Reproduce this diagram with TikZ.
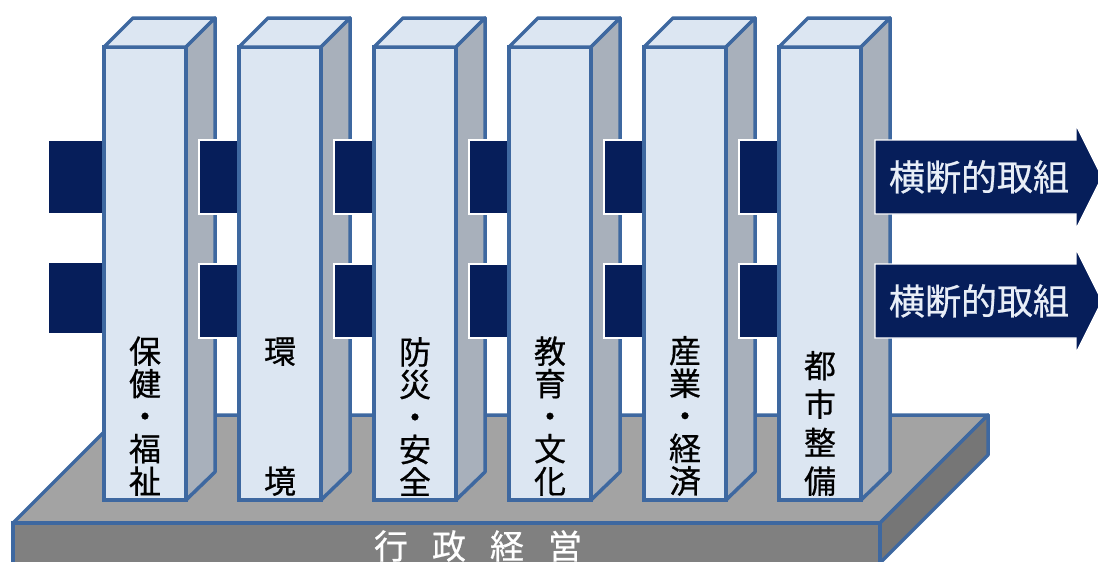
\documentclass[tikz,border=0pt]{standalone}
\usepackage{fontspec}
\setmainfont[FakeBold=0.6,AutoFakeBold=0.6]{Noto Sans CJK JP}
\usetikzlibrary{positioning}
\definecolor{navy}{RGB}{6,30,90}
\definecolor{face}{RGB}{220,230,242}
\definecolor{shade}{RGB}{168,176,187}
\definecolor{rim}{RGB}{62,104,160}
\tikzstyle{pillar} = [rectangle, draw=rim, fill=face, line width=3.5pt, minimum width=82pt, minimum height=453pt, inner sep=0pt, outer sep=0pt]
\tikzstyle{topface} = [draw=rim, fill=face, line width=3.5pt, line join=round]
\tikzstyle{sideface} = [draw=rim, fill=shade, line width=3.5pt, line join=round]
\tikzstyle{bar} = [fill=navy, draw=white, line width=1.2pt]

% one column of the building: front face, top, side and its label
\newcommand{\sector}[3]{%
    \node[pillar] (#1) at (#2,273.5) {};
    \filldraw[topface] (#1.north west) -- ++(29,-29) -- ++(82,0) -- (#1.north east) -- cycle;
    \filldraw[sideface] (#1.north east) -- ++(29,-29) -- ++(0,454) -- (#1.south east) -- cycle;
    \node[label text, above=4pt of #1.south] {#3};
}
\newcommand{\crossbars}[1]{%
    \filldraw[bar] (#1.north east) ++(13,93) rectangle ++(45,74);
    \filldraw[bar] (#1.north east) ++(13,217) rectangle ++(45,74);
}

\begin{document}
\begin{tikzpicture}[
    x=1pt, y=-1pt,
    label text/.style={align=center, inner sep=0pt, font=\fontsize{32}{32.5}\selectfont\bfseries},
    arrow text/.style={text={rgb,255:red,232;green,238;blue,247}, inner sep=0pt, font=\fontsize{36}{40}\selectfont},
    base text/.style={text=white, inner sep=0pt, font=\fontsize{34}{36}\selectfont}
]
    \clip (0,0) rectangle (1098,562);
    % base plate
    \filldraw[draw=rim, fill={rgb,255:red,163;green,163;blue,163}, line width=3.5pt, line join=round]
        (13,523) -- (121,415) -- (988,415) -- (880,523) -- cycle;
    \filldraw[draw=rim, fill={rgb,255:red,128;green,128;blue,128}, line width=3.5pt]
        (13,523) rectangle (880,575);
    \filldraw[draw=rim, fill={rgb,255:red,118;green,118;blue,118}, line width=3.5pt, line join=round]
        (880,523) -- (988,415) -- (988,455) -- (880,563) -- cycle;
    \node[base text] (gov) at (478,546) {行\hspace{24pt}政\hspace{24pt}経\hspace{24pt}営};

    \filldraw[bar] (48,140) rectangle (106,214);
    \filldraw[bar] (48,262) rectangle (106,334);

    \sector{p1}{145}{保\\健\\・\\福\\祉}
    \crossbars{p1}
    \sector{p2}{280}{環\\[97.5pt]境}
    \crossbars{p2}
    \sector{p3}{415}{防\\災\\・\\安\\全}
    \crossbars{p3}
    \sector{p4}{550}{教\\育\\・\\文\\化}
    \crossbars{p4}
    \sector{p5}{685}{産\\業\\・\\経\\済}
    \crossbars{p5}
    \sector{p6}{820}{都\\[6pt]市\\[6pt]整\\[6pt]備}

    % arrows out of the last column
    \filldraw[bar] (p6.north east) ++(14,93) -- ++(201,0) -- ++(0,-15) -- ++(26,52)
        -- ++(-26,52) -- ++(0,-15) -- ++(-201,0) -- cycle;
    \path (p6.north east) ++(118,130) node[arrow text] (a1) {横断的取組};
    \filldraw[bar] (p6.north east) ++(14,217) -- ++(201,0) -- ++(0,-15) -- ++(26,52)
        -- ++(-26,52) -- ++(0,-15) -- ++(-201,0) -- cycle;
    \path (p6.north east) ++(118,254) node[arrow text] (a2) {横断的取組};
\end{tikzpicture}
\end{document}
